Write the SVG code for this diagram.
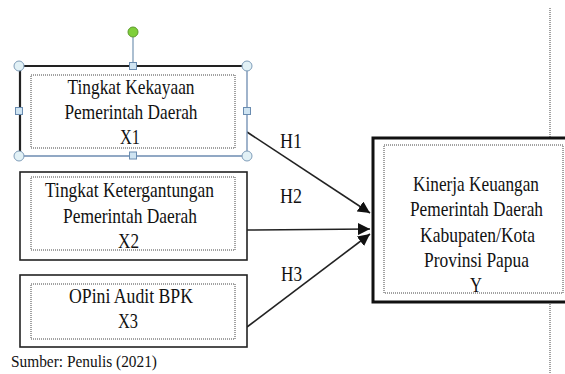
<svg xmlns="http://www.w3.org/2000/svg" width="565" height="374" viewBox="0 0 565 374">
<style>
.box{fill:#fff;stroke:#222;stroke-width:1.6}
.inner{fill:none;stroke:#444;stroke-width:1;stroke-dasharray:1 1}
.conn{stroke:#222;stroke-width:1.6;fill:none}
.hc{fill:#e2f1f6;stroke:#7f9db9;stroke-width:1}
.hs{fill:#cfe4f2;stroke:#6a8cb0;stroke-width:1}
</style>
<defs>
<marker id="ah" markerUnits="userSpaceOnUse" markerWidth="12" markerHeight="12" refX="12" refY="6" orient="auto">
<path d="M0,0 L12,6 L0,12 z" fill="#111"/>
</marker>
</defs>
<rect width="565" height="374" fill="#fff"/>
<line x1="550" y1="8" x2="550" y2="374" stroke="#444" stroke-width="1" stroke-dasharray="1 1"/>

<g id="connectors">
<line class="conn" x1="247" y1="132" x2="370" y2="213" marker-end="url(#ah)"/>
<line class="conn" x1="247" y1="230" x2="370" y2="229" marker-end="url(#ah)"/>
<line class="conn" x1="247" y1="327" x2="370" y2="234" marker-end="url(#ah)"/>
<g font-family="Liberation Serif, Times New Roman, serif" font-size="21" fill="#111">
<text x="280" y="148" textLength="22" lengthAdjust="spacingAndGlyphs">H1</text>
<text x="280" y="203" textLength="22" lengthAdjust="spacingAndGlyphs">H2</text>
<text x="281" y="281" textLength="21" lengthAdjust="spacingAndGlyphs">H3</text>
</g>
</g>

<g id="node-x1">
<rect x="20" y="66" width="227" height="90" fill="#fff" stroke="none"/>
<line x1="19" y1="66" x2="247" y2="66" stroke="#222" stroke-width="2.2"/>
<line x1="20" y1="66" x2="20" y2="156" stroke="#222" stroke-width="2.2"/>
<line x1="247" y1="66" x2="247" y2="156" stroke="#6d8bb0" stroke-width="1.3"/>
<line x1="19" y1="156" x2="247" y2="156" stroke="#6d8bb0" stroke-width="1.3"/>
<rect class="inner" x="31" y="75" width="204" height="73"/>
<g font-family="Liberation Serif, Times New Roman, serif" font-size="21" fill="#111" text-anchor="middle">
<text x="131" y="94" textLength="127" lengthAdjust="spacingAndGlyphs">Tingkat Kekayaan</text>
<text x="131" y="119" textLength="133" lengthAdjust="spacingAndGlyphs">Pemerintah Daerah</text>
<text x="130" y="144" textLength="20" lengthAdjust="spacingAndGlyphs">X1</text>
</g>
<line x1="133" y1="37" x2="133" y2="62" stroke="#7f9db9" stroke-width="1.3"/>
<circle cx="133" cy="32" r="5" fill="#7fcf3a" stroke="#5d9a2c" stroke-width="1"/>
<circle class="hc" cx="19" cy="66" r="5"/>
<circle class="hc" cx="247" cy="66" r="5"/>
<circle class="hc" cx="19" cy="156" r="5"/>
<circle class="hc" cx="247" cy="156" r="5"/>
<rect class="hs" x="129.5" y="62.5" width="7" height="7"/>
<rect class="hs" x="129.5" y="152" width="7" height="7"/>
<rect class="hs" x="15.5" y="107.5" width="7" height="7"/>
<rect class="hs" x="243.5" y="107.5" width="7" height="7"/>
</g>

<g id="node-x2">
<rect class="box" x="20" y="172" width="227" height="88"/>
<rect class="inner" x="31" y="177" width="204" height="73"/>
<g font-family="Liberation Serif, Times New Roman, serif" font-size="21" fill="#111" text-anchor="middle">
<text x="129.5" y="197" textLength="169" lengthAdjust="spacingAndGlyphs">Tingkat Ketergantungan</text>
<text x="130" y="223" textLength="134" lengthAdjust="spacingAndGlyphs">Pemerintah Daerah</text>
<text x="128.5" y="248" textLength="21" lengthAdjust="spacingAndGlyphs">X2</text>
</g>
</g>

<g id="node-x3">
<rect class="box" x="20" y="275" width="227" height="72"/>
<rect class="inner" x="31" y="284" width="204" height="55"/>
<g font-family="Liberation Serif, Times New Roman, serif" font-size="21" fill="#111" text-anchor="middle">
<text x="131" y="303" textLength="124" lengthAdjust="spacingAndGlyphs">OPini Audit BPK</text>
<text x="128" y="328" textLength="20" lengthAdjust="spacingAndGlyphs">X3</text>
</g>
</g>

<g id="node-y">
<rect x="373" y="138" width="240" height="164" fill="#fff" stroke="#111" stroke-width="3"/>
<rect class="inner" x="384" y="145" width="179" height="148"/>
<g font-family="Liberation Serif, Times New Roman, serif" font-size="21" fill="#111" text-anchor="middle">
<text x="476" y="191" textLength="126" lengthAdjust="spacingAndGlyphs">Kinerja Keuangan</text>
<text x="476.5" y="216" textLength="133" lengthAdjust="spacingAndGlyphs">Pemerintah Daerah</text>
<text x="477.5" y="242" textLength="115" lengthAdjust="spacingAndGlyphs">Kabupaten/Kota</text>
<text x="476.5" y="267" textLength="105" lengthAdjust="spacingAndGlyphs">Provinsi Papua</text>
<text x="476" y="292" textLength="12" lengthAdjust="spacingAndGlyphs">Y</text>
</g>
</g>

<text x="11" y="367" font-family="Liberation Serif, Times New Roman, serif" font-size="17" fill="#111" textLength="146" lengthAdjust="spacingAndGlyphs">Sumber: Penulis (2021)</text>
</svg>
